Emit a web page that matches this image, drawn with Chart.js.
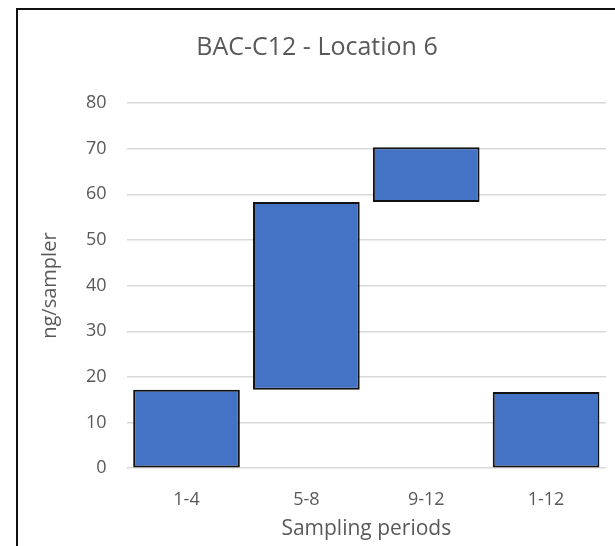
<!DOCTYPE html>
<html>
<head>
<meta charset="utf-8">
<script src="https://cdn.jsdelivr.net/npm/chart.js@4.4.1/dist/chart.umd.min.js"></script>
<style>
  html, body { margin: 0; padding: 0; background: #fff; overflow: hidden; }
  #wrap { position: relative; width: 615px; height: 546px; }
  #frame {
    position: absolute; left: 16px; top: 8px; right: -10px; bottom: -10px;
    border-left: 2px solid #111; border-top: 2px solid #111;
    pointer-events: none;
  }
  canvas { position: absolute; left: 0; top: 0; }
</style>
</head>
<body>
<div id="wrap">
  <canvas id="chart" width="615" height="546"></canvas>
  <div id="frame"></div>
</div>
<script>
// chart data
const periods = ['1-4', '5-8', '9-12', '1-12'];
const barStart = [0, 17.2, 58.3, 0];
const barEnd = [17.2, 58.3, 70.3, 16.7];
const yTicks = [0, 10, 20, 30, 40, 50, 60, 70, 80];

const TEXT = '#595959';
const FONT = "'Open Sans', 'Liberation Sans', sans-serif";

const ranges = periods.map((p, i) => [barStart[i], barEnd[i]]);

new Chart(document.getElementById('chart'), {
    type: 'bar',
    data: {
        labels: periods,
        datasets: [{
            data: ranges,
            backgroundColor: '#4472C4',
            borderColor: '#111111',
            borderWidth: 2,
            borderSkipped: false,
            categoryPercentage: 1.0,
            barPercentage: 0.89
        }]
    },
    options: {
        responsive: false,
        animation: false,
        layout: { padding: { left: 28, right: 9, top: 33, bottom: 4 } },
        plugins: {
            legend: { display: false },
            tooltip: { enabled: false },
            title: {
                display: true,
                text: 'BAC-C12 - Location 6',
                color: TEXT,
                font: { family: FONT, size: 25, weight: 'normal' },
                padding: { top: 0, bottom: 40 }
            }
        },
        scales: {
            x: {
                grid: { display: false, drawTicks: false },
                border: { display: false },
                ticks: { color: TEXT, font: { family: FONT, size: 18 }, padding: 21 },
                title: {
                    display: true,
                    text: 'Sampling periods',
                    color: TEXT,
                    font: { family: FONT, size: 21 },
                    padding: { top: -15, bottom: 0 }
                }
            },
            y: {
                min: 0,
                max: 80,
                afterBuildTicks: axis => { axis.ticks = yTicks.map(v => ({ value: v })); },
                grid: { color: '#d9d9d9', lineWidth: 1.5, drawTicks: false },
                border: { display: false },
                ticks: { color: TEXT, font: { family: FONT, size: 18 }, padding: 20 },
                title: {
                    display: true,
                    text: 'ng/sampler',
                    color: TEXT,
                    font: { family: FONT, size: 20 },
                    padding: { top: 10, bottom: 4 }
                }
            }
        }
    }
});
</script>
</body>
</html>
